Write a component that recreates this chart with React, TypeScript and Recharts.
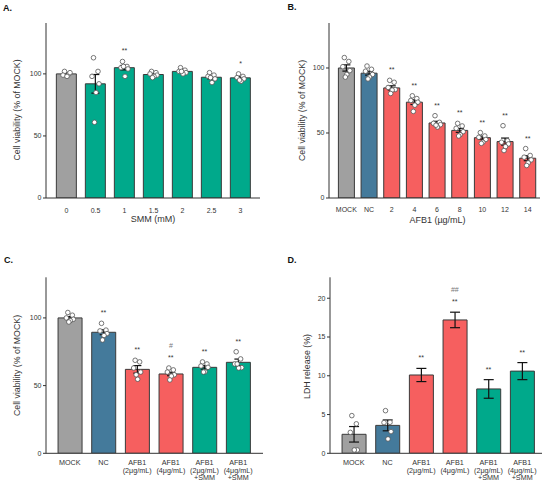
import React from "react";
import { ComposedChart, Bar, Cell, ErrorBar, Scatter, XAxis, YAxis } from "recharts";

const FONT = "'Liberation Sans', Arial, Helvetica, sans-serif";
const INK = "#333";
const FILL: Record<string, string> = {
  mock: "#a0a0a0",
  nc: "#447a9b",
  afb: "#f65f5f",
  smm: "#00a98b",
};

// A. SMM alone
const CAT_A = ["0", "0.5", "1", "1.5", "2", "2.5", "3"];
const GRP_A = ["mock", "smm", "smm", "smm", "smm", "smm", "smm"];
const MEAN_A = [100, 92, 105, 99.5, 102, 97.3, 96.8];
const SEM_A = [0.6, 7.5, 1.8, 0.8, 0.8, 1.3, 1.1];
const PTS_A = [
  [102, 100, 99, 101, 98],
  [113, 102, 98, 92, 85, 61],
  [110, 106, 105, 104, 98, 106],
  [102, 101, 100, 99, 98, 97],
  [105, 103, 102, 101, 100, 102],
  [101, 99, 98, 96, 93, 97],
  [100, 98, 97, 96, 94, 95],
];
const SIG_A = ["", "", "**", "", "", "", "*"];

// B. AFB1 dose
const CAT_B = ["MOCK", "NC", "2", "4", "6", "8", "10", "12", "14"];
const GRP_B = ["mock", "nc", "afb", "afb", "afb", "afb", "afb", "afb", "afb"];
const MEAN_B = [100, 96, 84.7, 73.7, 57.7, 52, 46.4, 43.4, 30.6];
const SEM_B = [2.4, 1.5, 1.6, 1.8, 1.3, 1.5, 1.2, 2.7, 1.9];
const PTS_B = [
  [108, 105, 101, 98, 95, 93],
  [101.5, 99, 97.5, 95, 93, 91.6],
  [90.5, 89, 85, 83.4, 83, 80.4],
  [78.6, 76.5, 75, 73.7, 71.4, 66.6],
  [63.3, 58.2, 57.4, 56.4, 54.6, 56],
  [57.4, 55.4, 53.6, 51, 48.7, 47.7],
  [50.3, 47.7, 46.7, 45, 42.9, 42],
  [55.6, 44, 42.9, 41.6, 39.5, 36.5],
  [38, 32.7, 31.4, 29.3, 27, 25],
];
const SIG_B = ["", "", "**", "**", "**", "**", "**", "**", "**"];

// C. viability with SMM
const CAT_CD = [
  "MOCK",
  "NC",
  "AFB1\n(2μg/mL)",
  "AFB1\n(4μg/mL)",
  "AFB1\n(2μg/mL)\n+SMM",
  "AFB1\n(4μg/mL)\n+SMM",
];
const GRP_CD = ["mock", "nc", "afb", "afb", "smm", "smm"];
const MEAN_C = [100, 89.4, 62, 58.6, 63.5, 67.2];
const SEM_C = [1, 1.8, 2.8, 1.3, 1.3, 2.4];
const PTS_C = [
  [104, 102, 100, 99, 98, 97],
  [96, 91, 90.4, 88.4, 87, 83.7],
  [68.7, 67.5, 63, 60, 54.7, 58],
  [63, 61.6, 60, 58, 57, 54.2],
  [67.5, 66, 64.5, 63.5, 60.3, 60],
  [75, 69.7, 66, 63.3, 63, 66],
];
const SIG_C = ["", "**", "**", "**", "**", "**"];
const HASH_C = ["", "", "", "#", "", ""];

// D. LDH release
const MEAN_D = [2.45, 3.6, 10.1, 17.2, 8.3, 10.6];
const SEM_D = [1.0, 0.7, 0.85, 1.0, 1.2, 1.1];
const PTS_D = [[4.86, 3.8, 2.7, 0.43, 0.43], [5.5, 4.0, 3.96, 2.8, 1.85], [], [], [], []];
const SIG_D = ["", "", "**", "**", "**", "**"];
const HASH_D = ["", "", "", "##", "", ""];

// horizontal spread of replicate dots, px
const JITTER = [-2, 2.5, -3.5, 3.5, 0.5, -1];

function buildRows(
  cat: string[],
  grp: string[],
  mean: number[],
  sem: number[],
  pts: number[][],
  sig: string[],
  hash?: string[]
) {
  return cat.map((c, i) => {
    const row: any = { cat: c, grp: grp[i], mean: mean[i], sem: sem[i], sig: sig[i], hash: hash ? hash[i] : "" };
    pts[i].forEach((v, j) => (row["p" + j] = v));
    const top = Math.max(mean[i] + sem[i], ...pts[i]);
    row.sigTop = sig[i] ? top : null;
    return row;
  });
}

const ROWS_A = buildRows(CAT_A, GRP_A, MEAN_A, SEM_A, PTS_A, SIG_A);
const ROWS_B = buildRows(CAT_B, GRP_B, MEAN_B, SEM_B, PTS_B, SIG_B);
const ROWS_C = buildRows(CAT_CD, GRP_CD, MEAN_C, SEM_C, PTS_C, SIG_C, HASH_C);
const ROWS_D = buildRows(CAT_CD, GRP_CD, MEAN_D, SEM_D, PTS_D, SIG_D, HASH_D);

function dot(p: any, j: number) {
  if (p.cy == null || !Number.isFinite(p.cy)) return <g />;
  return <circle cx={p.cx + JITTER[j]} cy={p.cy} r={2.3} fill="#fff" stroke="#555" strokeWidth={0.8} />;
}

function sigMark(p: any) {
  if (p.cy == null || !Number.isFinite(p.cy)) return <g />;
  const d = p.payload;
  return (
    <g fontFamily={FONT} textAnchor="middle">
      <text x={p.cx} y={p.cy - 8} fontSize={7} fill={INK}>
        {d.sig}
      </text>
      {d.hash ? (
        <text x={p.cx} y={p.cy - 20} fontSize={7} fill="#777">
          {d.hash}
        </text>
      ) : null}
    </g>
  );
}

function CatTick(props: any) {
  const { x, y, payload, off, fs } = props;
  const lines = String(payload.value).split("\n");
  return (
    <text x={x} y={y + off} textAnchor="middle" fontSize={fs} fill={INK} fontFamily={FONT}>
      {lines.map((l, i) => (
        <tspan key={i} x={x} dy={i === 0 ? 0 : fs * 1.05}>
          {l}
        </tspan>
      ))}
    </text>
  );
}

type PanelProps = {
  rows: any[];
  left: number;
  top: number;
  height: number;
  mTop: number;
  mRight: number;
  yWidth: number;
  xHeight: number;
  yMax: number;
  yTicks: number[];
  pad: { left: number; right: number };
  tickOff: number;
  tickFs: number;
  cap: number;
};

function Panel(p: PanelProps) {
  const nPts = Math.max(...p.rows.map((r) => Object.keys(r).filter((k) => /^p\d$/.test(k)).length));
  return (
    <div style={{ position: "absolute", left: p.left, top: p.top }}>
      <ComposedChart
        width={275}
        height={p.height}
        data={p.rows}
        margin={{ top: p.mTop, right: p.mRight, bottom: 0, left: 0 }}
        barCategoryGap="15%"
      >
        <XAxis
          dataKey="cat"
          interval={0}
          height={p.xHeight}
          padding={p.pad}
          tickLine={false}
          tickSize={0}
          tickMargin={0}
          stroke={INK}
          tick={(t: any) => <CatTick {...t} off={p.tickOff} fs={p.tickFs} />}
        />
        <YAxis
          type="number"
          domain={[0, p.yMax]}
          ticks={p.yTicks}
          allowDataOverflow
          width={p.yWidth}
          tickSize={3}
          tickMargin={1.5}
          stroke={INK}
          tick={{ fontSize: 7, fill: INK, fontFamily: FONT }}
        />
        <Bar dataKey="mean" isAnimationActive={false} stroke="#3a3a3a" strokeWidth={1}>
          {p.rows.map((r, i) => (
            <Cell key={i} fill={FILL[r.grp]} />
          ))}
          <ErrorBar dataKey="sem" width={p.cap} stroke="#111" strokeWidth={1.2} />
        </Bar>
        {Array.from({ length: nPts }, (_, j) => (
          <Scatter key={j} dataKey={"p" + j} isAnimationActive={false} shape={(s: any) => dot(s, j)} />
        ))}
        <Scatter dataKey="sigTop" isAnimationActive={false} shape={sigMark} />
      </ComposedChart>
    </div>
  );
}

export default function App() {
  const lab = { fontFamily: FONT, fill: INK } as const;
  return (
    <div style={{ position: "absolute", left: 0, top: 0, width: 550, height: 487, background: "#fff" }}>
      <Panel
        rows={ROWS_A}
        left={0}
        top={0}
        height={240}
        mTop={23}
        mRight={15}
        yWidth={46}
        xHeight={42}
        yMax={141}
        yTicks={[0, 50, 100]}
        pad={{ left: 6, right: 5 }}
        tickOff={15}
        tickFs={7}
        cap={4}
      />
      <Panel
        rows={ROWS_B}
        left={275}
        top={0}
        height={240}
        mTop={23}
        mRight={10}
        yWidth={54}
        xHeight={42}
        yMax={134.6}
        yTicks={[0, 50, 100]}
        pad={{ left: 6, right: 1 }}
        tickOff={13.8}
        tickFs={7}
        cap={4}
      />
      <Panel
        rows={ROWS_C}
        left={0}
        top={240}
        height={247}
        mTop={37.3}
        mRight={12}
        yWidth={46}
        xHeight={33.7}
        yMax={130}
        yTicks={[0, 50, 100]}
        pad={{ left: 7, right: 8 }}
        tickOff={12}
        tickFs={7.2}
        cap={4}
      />
      <Panel
        rows={ROWS_D}
        left={275}
        top={240}
        height={247}
        mTop={37.3}
        mRight={8}
        yWidth={55}
        xHeight={33.7}
        yMax={22.7}
        yTicks={[0, 5, 10, 15, 20]}
        pad={{ left: 7, right: 3 }}
        tickOff={12}
        tickFs={7.2}
        cap={5}
      />
      <svg width={550} height={487} style={{ position: "absolute", left: 0, top: 0, pointerEvents: "none" }}>
        <g fontFamily={FONT} fontWeight="bold" fontSize={9} fill="#111">
          <text x={3} y={11}>A.</text>
          <text x={287.5} y={10}>B.</text>
          <text x={4} y={263}>C.</text>
          <text x={287.5} y={262.5}>D.</text>
        </g>
        <g fontSize={9} textAnchor="middle" {...lab}>
          <text x={153} y={221.5}>SMM (mM)</text>
          <text x={437.5} y={223}>AFB1 (µg/mL)</text>
        </g>
        <g fontSize={8.8} textAnchor="middle" {...lab}>
          <text transform="translate(20,110) rotate(-90)">Cell viability (% of MOCK)</text>
          <text transform="translate(304.5,110.5) rotate(-90)">Cell viability (% of MOCK)</text>
          <text transform="translate(19.5,365.5) rotate(-90)">Cell viability (% of MOCK)</text>
          <text transform="translate(309.5,366.5) rotate(-90)">LDH release (%)</text>
        </g>
      </svg>
    </div>
  );
}
